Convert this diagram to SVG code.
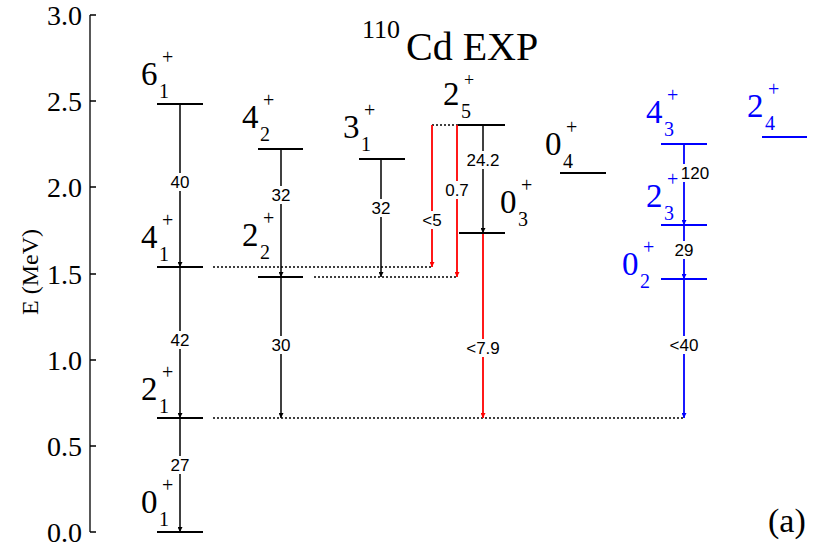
<svg xmlns="http://www.w3.org/2000/svg" width="830" height="554" viewBox="0 0 830 554">
<style>
.lv{stroke:#000;stroke-width:2;fill:none}
.b .lv{stroke:#00f}
.ax{stroke:#000;stroke-width:1.3;fill:none}
.dot{stroke:#000;stroke-width:1.5;stroke-dasharray:2,2;fill:none}
.ak{stroke:#000;stroke-width:1.5;fill:none}
.ar{stroke:#f00;stroke-width:1.8;fill:none}
.ab{stroke:#00f;stroke-width:1.8;fill:none}
</style>
<defs>
<marker id="mk" viewBox="0 0 10 10" refX="10" refY="5" markerWidth="5" markerHeight="5" orient="auto" markerUnits="userSpaceOnUse"><path d="M0,0L10,5L0,10z" fill="#000"/></marker>
<marker id="mr" viewBox="0 0 10 10" refX="10" refY="5" markerWidth="5" markerHeight="5" orient="auto" markerUnits="userSpaceOnUse"><path d="M0,0L10,5L0,10z" fill="#f00"/></marker>
<marker id="mb" viewBox="0 0 10 10" refX="10" refY="5" markerWidth="5" markerHeight="5" orient="auto" markerUnits="userSpaceOnUse"><path d="M0,0L10,5L0,10z" fill="#00f"/></marker>
</defs>
<rect width="830" height="554" fill="#fff"/>
<g id="axis" font-family="Liberation Serif, serif">
<path class="ax" d="M90,15V532M90,15h6M90,101h6M90,187h6M90,274h6M90,360h6M90,446h6M90,532h6"/>
<g font-size="28" text-anchor="end">
<text x="82" y="25">3.0</text><text x="82" y="111">2.5</text><text x="82" y="197">2.0</text><text x="82" y="284">1.5</text><text x="82" y="370">1.0</text><text x="82" y="456">0.5</text><text x="82" y="542">0.0</text>
</g>
<text font-size="24" text-anchor="middle" transform="translate(38,272) rotate(-90)">E  (MeV)</text>
</g>
<g id="title" font-family="Liberation Serif, serif"><text x="362" y="38" font-size="26">110</text><text x="406" y="60" font-size="40">Cd  EXP</text></g>
<text x="768" y="532" font-size="34" font-family="Liberation Serif, serif">(a)</text>
<g id="connectors">
<path class="dot" d="M213,267H432M314,277H457M213,418H684M432,125H458"/>
<path class="ak" marker-end="url(#mk)" d="M180,104V267"/>
<path class="ak" marker-end="url(#mk)" d="M180,267V418"/>
<path class="ak" marker-end="url(#mk)" d="M180,418V532"/>
<path class="ak" marker-end="url(#mk)" d="M281,149V277"/>
<path class="ak" marker-end="url(#mk)" d="M281,277V418"/>
<path class="ak" marker-end="url(#mk)" d="M381,159V277"/>
<path class="ak" marker-end="url(#mk)" d="M483,125V233"/>
<path class="ar" marker-end="url(#mr)" d="M432,125V267"/>
<path class="ar" marker-end="url(#mr)" d="M457,125V277"/>
<path class="ar" marker-end="url(#mr)" d="M483,233V418"/>
<path class="ab" marker-end="url(#mb)" d="M684,144V225"/>
<path class="ab" marker-end="url(#mb)" d="M684,225V279"/>
<path class="ab" marker-end="url(#mb)" d="M684,279V418"/>
<g fill="#fff">
<rect x="169" y="173" width="22" height="18"/><rect x="270" y="186" width="22" height="18"/><rect x="370" y="199" width="22" height="18"/>
<rect x="419" y="211" width="26" height="18"/><rect x="444" y="181" width="26" height="18"/><rect x="466" y="151" width="34" height="18"/>
<rect x="461" y="339" width="44" height="18"/><rect x="673" y="241" width="22" height="18"/><rect x="662" y="336" width="44" height="18"/>
<rect x="169" y="331" width="22" height="18"/><rect x="270" y="336" width="22" height="18"/><rect x="169" y="456" width="22" height="18"/>
<rect x="679" y="164" width="32" height="18"/>
</g>
<g font-family="Liberation Sans, sans-serif" font-size="17" text-anchor="middle">
<text x="180" y="188">40</text><text x="281" y="201">32</text><text x="381" y="214">32</text>
<text x="432" y="226">&lt;5</text><text x="457" y="196">0.7</text><text x="483" y="166">24.2</text>
<text x="483" y="354">&lt;7.9</text><text x="695" y="179">120</text><text x="684" y="256">29</text>
<text x="684" y="351">&lt;40</text><text x="180" y="346">42</text><text x="281" y="351">30</text><text x="180" y="471">27</text>
</g>
</g>
<g font-family="Liberation Serif, serif">
<g id="n01"><path class="lv" d="M157,532H203"/><text font-size="33" x="141" y="513">0</text><text font-size="20" x="159" y="526">1</text><text font-size="20" x="162" y="492">+</text></g>
<g id="n21"><path class="lv" d="M157,418H203"/><text font-size="33" x="141" y="400">2</text><text font-size="20" x="159" y="413">1</text><text font-size="20" x="162" y="379">+</text></g>
<g id="n41"><path class="lv" d="M157,267H203"/><text font-size="33" x="141" y="248">4</text><text font-size="20" x="159" y="261">1</text><text font-size="20" x="162" y="227">+</text></g>
<g id="n61"><path class="lv" d="M157,104H203"/><text font-size="33" x="141" y="85">6</text><text font-size="20" x="159" y="98">1</text><text font-size="20" x="162" y="64">+</text></g>
<g id="n42"><path class="lv" d="M258,149H303"/><text font-size="33" x="242" y="128">4</text><text font-size="20" x="260" y="141">2</text><text font-size="20" x="263" y="107">+</text></g>
<g id="n22"><path class="lv" d="M258,277H303"/><text font-size="33" x="242" y="246">2</text><text font-size="20" x="260" y="259">2</text><text font-size="20" x="263" y="225">+</text></g>
<g id="n31"><path class="lv" d="M359,159H405"/><text font-size="33" x="343" y="138">3</text><text font-size="20" x="361" y="151">1</text><text font-size="20" x="364" y="117">+</text></g>
<g id="n25"><path class="lv" d="M458,125H505"/><text font-size="33" x="443" y="105">2</text><text font-size="20" x="461" y="118">5</text><text font-size="18" x="464" y="86">+</text></g>
<g id="n03"><path class="lv" d="M459,233H505"/><text font-size="33" x="500" y="213">0</text><text font-size="20" x="518" y="226">3</text><text font-size="20" x="521" y="192">+</text></g>
<g id="n04"><path class="lv" d="M560,173H606"/><text font-size="33" x="545" y="155">0</text><text font-size="20" x="563" y="168">4</text><text font-size="20" x="566" y="134">+</text></g>
<g id="n43" class="b" fill="#00f"><path class="lv" d="M661,144H707"/><text font-size="33" x="646" y="123">4</text><text font-size="20" x="664" y="136">3</text><text font-size="20" x="667" y="102">+</text></g>
<g id="n23" class="b" fill="#00f"><path class="lv" d="M661,225H707"/><text font-size="33" x="646" y="207">2</text><text font-size="20" x="664" y="220">3</text><text font-size="20" x="667" y="186">+</text></g>
<g id="n02" class="b" fill="#00f"><path class="lv" d="M661,279H707"/><text font-size="33" x="622" y="275">0</text><text font-size="20" x="640" y="288">2</text><text font-size="20" x="643" y="254">+</text></g>
<g id="n24" class="b" fill="#00f"><path class="lv" d="M762,137H807"/><text font-size="33" x="747" y="117">2</text><text font-size="20" x="765" y="130">4</text><text font-size="20" x="768" y="96">+</text></g>
</g>
</svg>
